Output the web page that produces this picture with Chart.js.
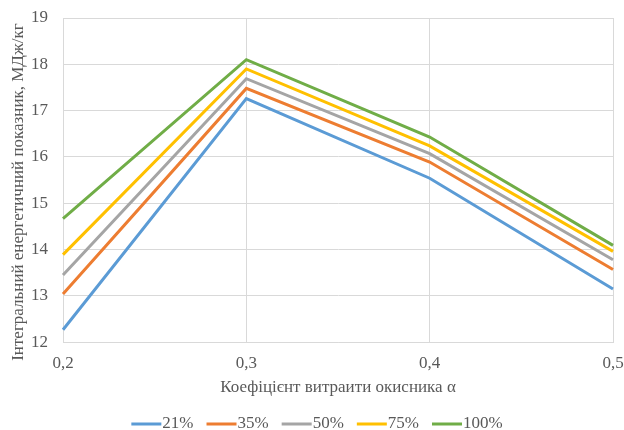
<!DOCTYPE html>
<html><head><meta charset="utf-8">
<script src="https://cdn.jsdelivr.net/npm/chart.js@4/dist/chart.umd.min.js"></script>
<style>html,body{margin:0;padding:0;background:#fff}#w{width:624px;height:430px}</style>
</head><body><div id="w"><canvas id="c"></canvas></div>
<script>
const categories = ["0,2", "0,3", "0,4", "0,5"];
const seriesNames = ["21%", "35%", "50%", "75%", "100%"];
const s21 = [12.27, 17.26, 15.54, 13.15];
const s35 = [13.04, 17.48, 15.89, 13.57];
const s50 = [13.45, 17.69, 16.07, 13.78];
const s75 = [13.89, 17.90, 16.24, 13.96];
const s100 = [14.67, 18.10, 16.43, 14.09];
const colors = ["#5b9bd5", "#ed7d31", "#a5a5a5", "#ffc000", "#70ad47"];
const yTitle = "Інтегральний енергетичний показник, МДж/кг";
const xTitle = "Коефіцієнт витраити окисника α";

const data = [s21, s35, s50, s75, s100];
const FAMILY = "'Liberation Serif', 'Times New Roman', serif";
const font = {family: FAMILY, size: 17};
const textColor = '#595959';

const yTitlePlugin = {
  id: 'yTitle',
  afterDraw(chart) {
    const ctx = chart.ctx;
    ctx.save();
    ctx.font = '17px ' + FAMILY;
    ctx.fillStyle = textColor;
    ctx.textAlign = 'center';
    ctx.textBaseline = 'middle';
    ctx.translate(19, (chart.chartArea.top + chart.chartArea.bottom) / 2 + 12);
    ctx.rotate(-Math.PI / 2);
    ctx.fillText(yTitle, 0, 0);
    ctx.restore();
  }
};

const legendPlugin = {
  id: 'xlLegend',
  afterDraw(chart) {
    const ctx = chart.ctx;
    ctx.save();
    ctx.font = '17px ' + FAMILY;
    ctx.textBaseline = 'middle';
    ctx.textAlign = 'left';
    const boxW = 30, gapText = 1, gapItem = 13;
    const items = chart.data.datasets.map(ds => ({label: ds.label, color: ds.borderColor, w: ctx.measureText(ds.label).width}));
    const total = items.reduce((a, it) => a + boxW + gapText + it.w, 0) + gapItem * (items.length - 1);
    let x = chart.width / 2 + 5 - total / 2;
    const y = 424;
    items.forEach(it => {
      ctx.fillStyle = it.color;
      ctx.fillRect(x, y - 1.5, boxW, 3);
      ctx.fillStyle = textColor;
      ctx.fillText(it.label, x + boxW + gapText, y);
      x += boxW + gapText + it.w + gapItem;
    });
    ctx.restore();
  }
};

new Chart(document.getElementById('c'), {
  type: 'line',
  data: {
    labels: categories,
    datasets: data.map((d, i) => ({
      label: seriesNames[i], data: d, borderColor: colors[i], backgroundColor: colors[i],
      borderWidth: 3, pointRadius: 0, tension: 0, fill: false
    }))
  },
  plugins: [yTitlePlugin, legendPlugin],
  options: {
    responsive: true, maintainAspectRatio: false, animation: false,
    layout: {padding: {top: 18, right: 11, left: 16, bottom: 32}},
    plugins: {
      tooltip: {enabled: false},
      legend: {display: false}
    },
    scales: {
      x: {
        offset: false,
        afterFit(s) { s.paddingLeft = 0; s.paddingRight = 0; },
        grid: {color: '#d9d9d9', lineWidth: 1, drawTicks: false},
        border: {color: '#d9d9d9'},
        ticks: {color: textColor, font: font, padding: 11, maxRotation: 0},
        title: {display: true, text: xTitle, color: textColor, font: font, padding: {top: -7, bottom: 0}}
      },
      y: {
        min: 12, max: 19,
        afterFit(s) { s.paddingTop = 0; s.paddingBottom = 0; },
        grid: {color: '#d9d9d9', lineWidth: 1, drawTicks: false},
        border: {color: '#d9d9d9'},
        ticks: {color: textColor, font: font, stepSize: 1, padding: 15}
      }
    }
  }
});
</script></body></html>
